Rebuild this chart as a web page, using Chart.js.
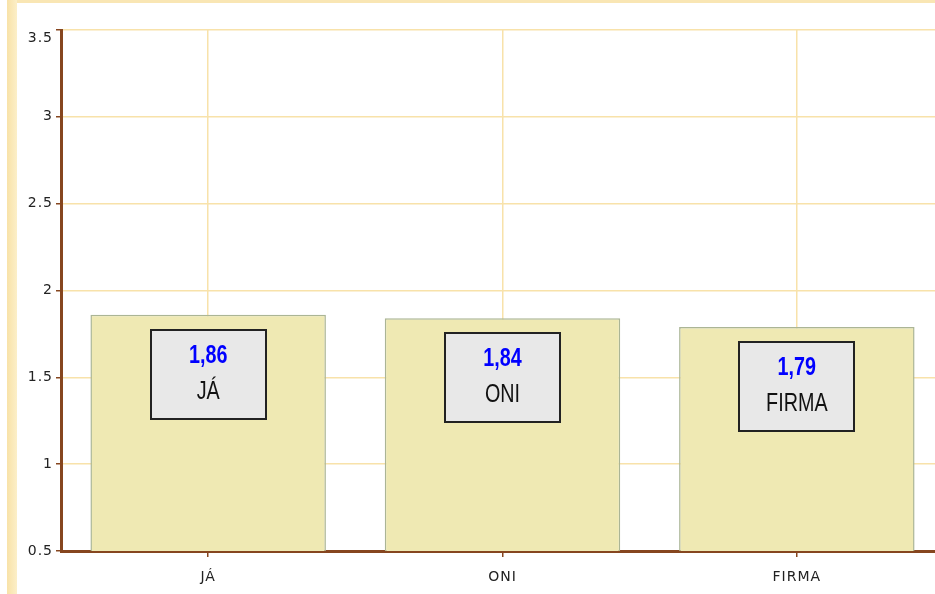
<!DOCTYPE html>
<html>
<head>
<meta charset="utf-8">
<script src="https://cdn.jsdelivr.net/npm/chart.js@4.4.1/dist/chart.umd.min.js"></script>
<style>
  html, body { margin: 0; padding: 0; background: #fff; width: 935px; height: 594px; overflow: hidden; }
  #wrap { position: relative; width: 935px; height: 594px; overflow: hidden; }
  .stripe-left { position: absolute; left: 7px; top: 0; width: 10px; height: 594px;
    background: linear-gradient(to right, #f8e2a8, #fcefc8); }
  .stripe-top { position: absolute; left: 17px; top: 0; width: 918px; height: 3px; background: #f9e6b4; }
  #box { position: absolute; left: 0; top: 0; width: 945px; height: 594px; }
</style>
</head>
<body>
<div id="wrap">
  <div class="stripe-left"></div>
  <div class="stripe-top"></div>
  <div id="box"><canvas id="chart"></canvas></div>
</div>
<script>
// ------------------------------------------------------------
// Datos
// ------------------------------------------------------------
const categories = ['JÁ', 'ONI', 'FIRMA'];
const values = [1.86, 1.84, 1.79];
const yMin = 0.5;
const yMax = 3.5;
const yStep = 0.5;

const axisBrown = '#86461f';
const gridYellow = '#f8e2aa';
const tickText = '#222222';

// Caja con valor + categoría dentro de cada barra (texto condensado)
const boxLabels = {
  id: 'boxLabels',
  afterDatasetsDraw(chart) {
    const ctx = chart.ctx;
    const meta = chart.getDatasetMeta(0);
    meta.data.forEach((bar, i) => {
      const w = 115, h = 89;
      const left = Math.round(bar.x - w / 2);
      const top = Math.round(bar.y + 15);
      ctx.save();
      ctx.fillStyle = '#e8e8e8';
      ctx.fillRect(left, top, w, h);
      ctx.strokeStyle = '#222222';
      ctx.lineWidth = 2;
      ctx.strokeRect(left, top, w, h);
      ctx.translate(bar.x, top);
      ctx.scale(0.76, 1);
      ctx.textAlign = 'center';
      ctx.textBaseline = 'middle';
      ctx.fillStyle = '#0000ff';
      ctx.font = 'bold 26px "Liberation Sans", Arial, sans-serif';
      ctx.fillText(values[i].toFixed(2).replace('.', ','), 0, 26);
      ctx.fillStyle = '#111111';
      ctx.font = '26px "Liberation Sans", Arial, sans-serif';
      ctx.fillText(categories[i], 0, 62);
      ctx.restore();
    });
  }
};

// Espaciado de letras para los textos de los ejes
const axisSpacing = {
  id: 'axisSpacing',
  beforeDraw(chart) { chart.ctx.letterSpacing = '1px'; },
  beforeDatasetsDraw(chart) { chart.ctx.letterSpacing = '0px'; }
};

new Chart(document.getElementById('chart'), {
  type: 'bar',
  data: {
    labels: categories,
    datasets: [{
      data: values,
      backgroundColor: '#efe9b3',
      borderColor: '#abb595',
      borderWidth: 1.5,
      barPercentage: 0.8,
      categoryPercentage: 1
    }]
  },
  options: {
    responsive: true,
    maintainAspectRatio: false,
    animation: false,
    layout: { padding: { top: 30, right: 1, left: 0, bottom: 0 } },
    plugins: { legend: { display: false }, tooltip: { enabled: false } },
    scales: {
      x: {
        offset: true,
        grid: { offset: false, color: gridYellow, lineWidth: 1.5, tickColor: axisBrown, tickLength: 6 },
        border: { color: axisBrown, width: 3 },
        ticks: { color: tickText, font: { family: 'DejaVu Sans', size: 14 }, padding: 12, maxRotation: 0 },
        afterFit(scale) { scale.height = 43; }
      },
      y: {
        min: yMin,
        max: yMax,
        ticks: {
          stepSize: yStep,
          color: tickText,
          font: { family: 'DejaVu Sans', size: 14 },
          padding: 3,
          // la etiqueta superior queda bajada, como en el original
          callback: (v) => (v === yMax ? ['', String(v)] : String(v))
        },
        grid: { color: gridYellow, lineWidth: 1.5, tickColor: axisBrown, tickLength: 5 },
        border: { color: axisBrown, width: 3 },
        afterFit(scale) { scale.width = 61; }
      }
    }
  },
  plugins: [boxLabels, axisSpacing]
});
</script>
</body>
</html>
